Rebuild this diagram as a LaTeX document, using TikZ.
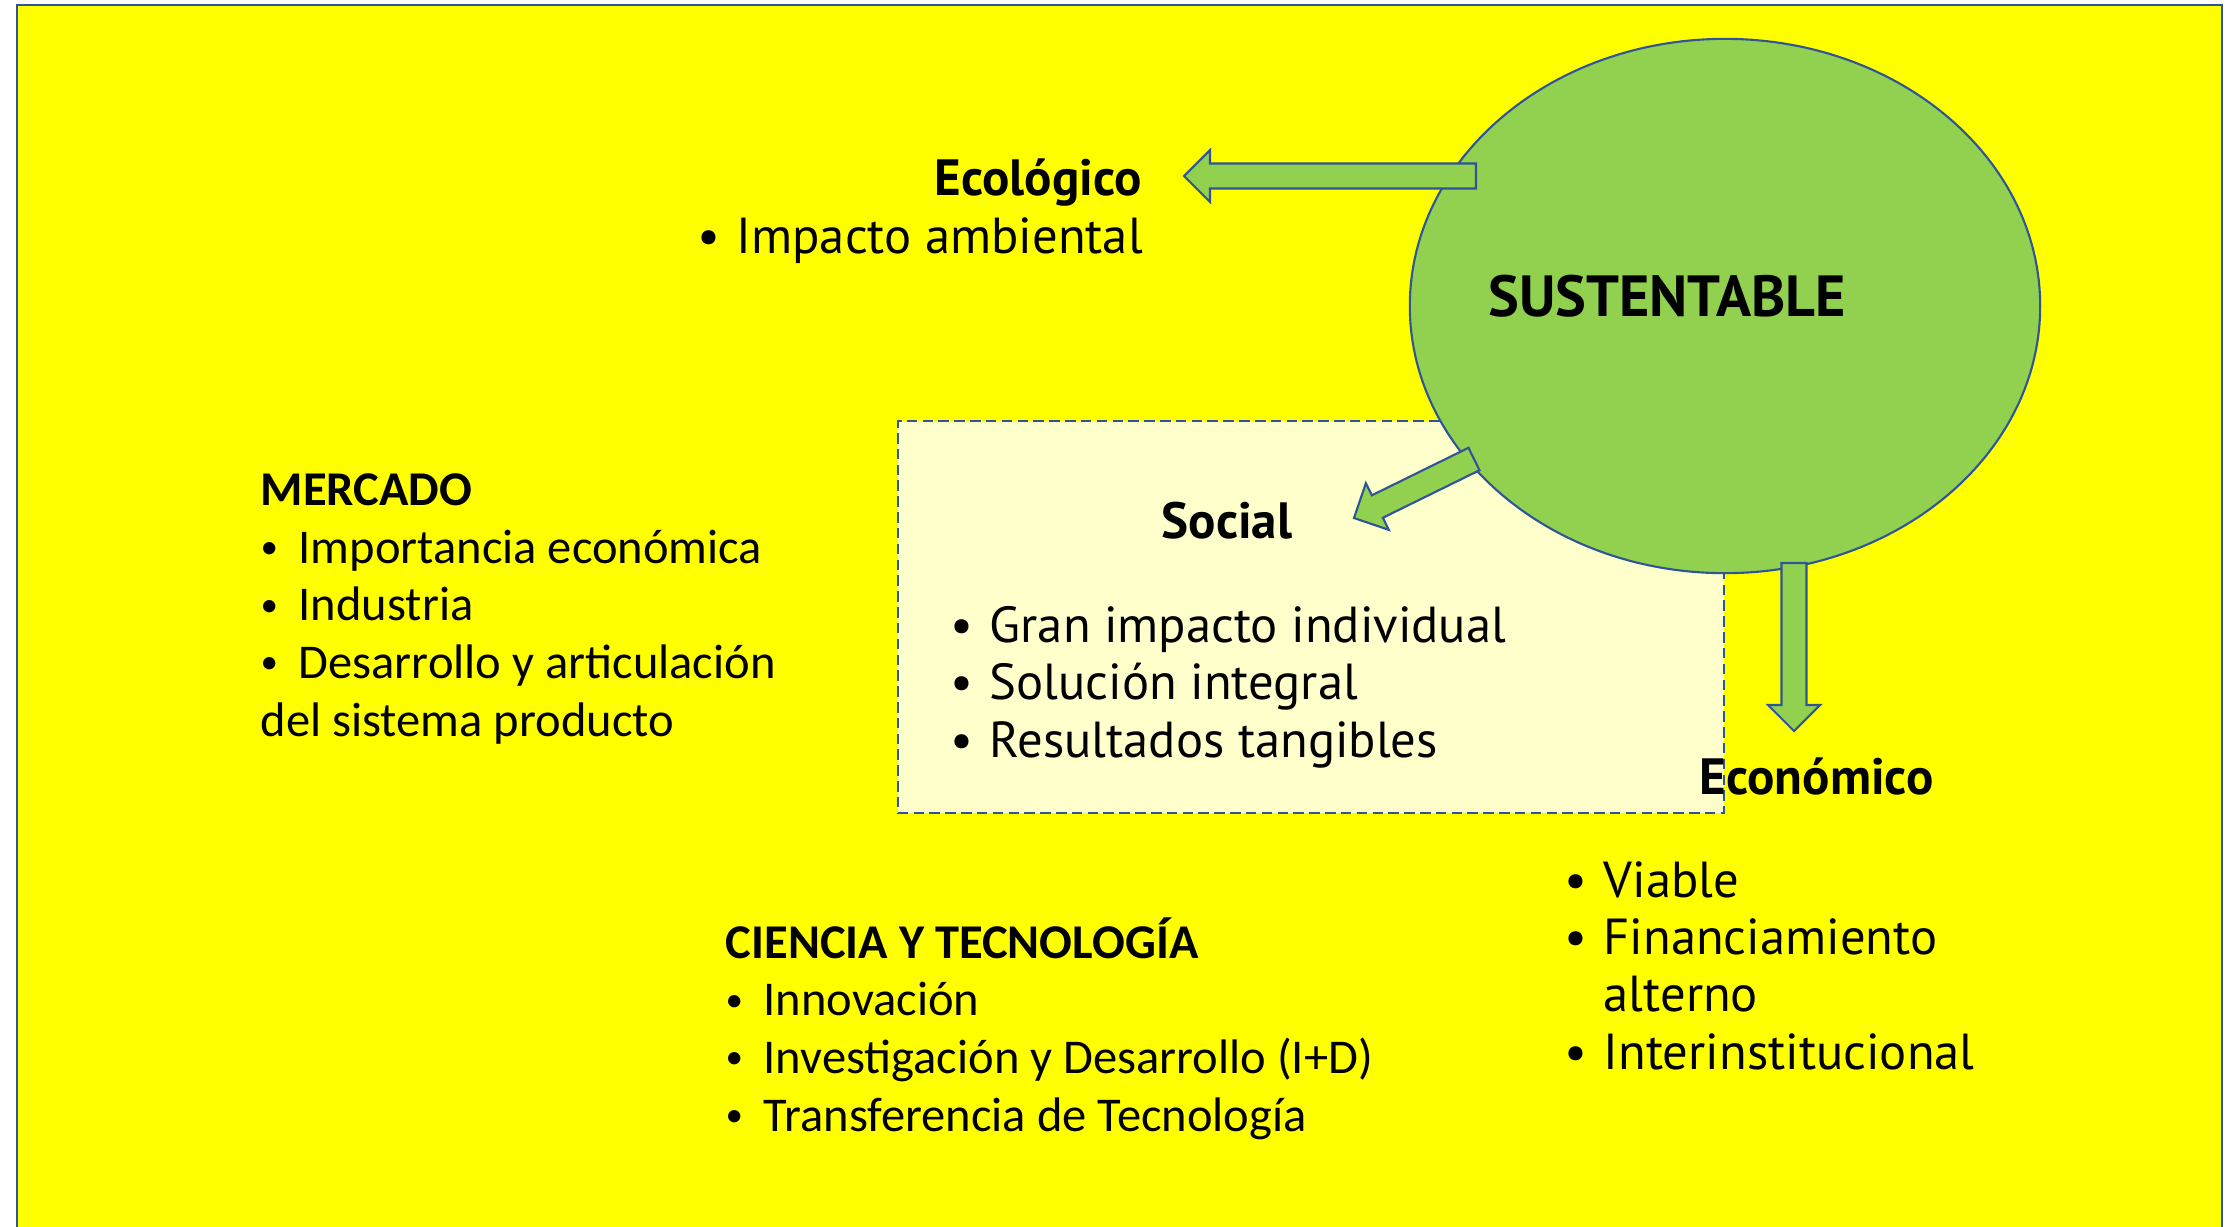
\documentclass[tikz,border=0pt]{standalone}
\usepackage{fontspec}
\setmainfont{Carlito}
\newfontfamily\comic{PT Sans}
\usepackage{tikz}
\usetikzlibrary{shapes.geometric,calc}

\definecolor{ylw}{HTML}{FFFF00}
\definecolor{grn}{HTML}{92D050}
\definecolor{bord}{HTML}{2F5597}
\definecolor{pale}{HTML}{FFFFCC}

\newcommand{\itm}{\makebox[3.9mm][l]{•}}
\newcommand{\citm}{\makebox[3.8mm][l]{\raisebox{0.2ex}{\scalebox{0.72}{•}}}}
\newcommand{\blockarrow}[2]{%
  \path ($(#2)!2.6mm!(#1)$) coordinate (hb);
  \draw[blk] ($(#1)!1.25mm!90:(#2)$) -- ($(hb)!1.25mm!-90:(#1)$)
    -- ($(hb)!2.6mm!-90:(#1)$) -- (#2) -- ($(hb)!2.6mm!90:(#1)$)
    -- ($(hb)!1.25mm!90:(#1)$) -- ($(#1)!1.25mm!-90:(#2)$) -- cycle;}

\begin{document}
\begin{tikzpicture}[
  x=0.01cm, y=-0.01cm,
  ttl/.style={font=\comic\bfseries\fontsize{14.5}{17}\selectfont,anchor=base west,inner sep=0},
  txt/.style={font=\comic\fontsize{14.4}{16.3}\selectfont,align=left,anchor=base west,inner sep=0},
  cal/.style={font=\fontsize{13.8}{16.4}\selectfont,align=left,anchor=base west,inner sep=0},
  blk/.style={fill=grn,draw=bord,line width=0.6pt,line join=miter},
  sus/.style={ellipse,draw=bord,fill=grn,line width=0.6pt,minimum width=6.3cm,minimum height=5.34cm,inner sep=0},
  note/.style={rectangle,draw=bord,fill=pale,line width=0.6pt,dash pattern=on 3pt off 1.5pt,minimum width=8.26cm,minimum height=3.92cm,inner sep=0},
]
\useasboundingbox (0,0) rectangle (2229,1226);
\fill[white] (0,0) rectangle (2229,1226);
\draw[bord,fill=ylw,line width=0.5pt] (17,5) rectangle (2222,1260);

\node [note] (box) at (1311,617) {};
\node [sus] (sus) at (1725,306) {};

\coordinate (ecoT) at ($(sus.center)+(-249,-130)$);
\coordinate (ecoH) at (1184,176);
\coordinate (socT) at ($(sus.center)+(-251,153)$);
\coordinate (socH) at (1354,518);
\coordinate (econT) at ($(sus.center)+(69,257)$);
\coordinate (econH) at (1794,731);
\blockarrow{ecoT}{ecoH}
\blockarrow{socT}{socH}
\blockarrow{econT}{econH}

\node [ttl,font=\comic\bfseries\fontsize{16.5}{19}\selectfont] (sust) at (1488,316) {SUSTENTABLE};
\node [ttl] (eco) at (934,195) {Ecológico};
\node [txt] (ecoi) at (697,253) {\itm Impacto ambiental};
\node [ttl] (soc) at (1161,538) {Social};
\node [txt] (soci) at (950,757) {\itm Gran impacto individual\\ \itm Solución integral\\ \itm Resultados tangibles};
\node [ttl] (econ) at (1699,794) {Económico};
\node [txt] (econi) at (1564,1069) {\itm Viable\\ \itm Financiamiento\\ \hspace*{3.9mm}alterno\\ \itm Interinstitucional};
\node [cal] (merc) at (260,736) {\textbf{MERCADO}\\ \citm Importancia económica\\ \citm Industria\\ \citm Desarrollo y articulación\\ del sistema producto};
\node [cal] (cyt) at (725,1131) {\textbf{CIENCIA Y TECNOLOGÍA}\\ \citm Innovación\\ \citm Investigación y Desarrollo (I+D)\\ \citm Transferencia de Tecnología};
\end{tikzpicture}
\end{document}
